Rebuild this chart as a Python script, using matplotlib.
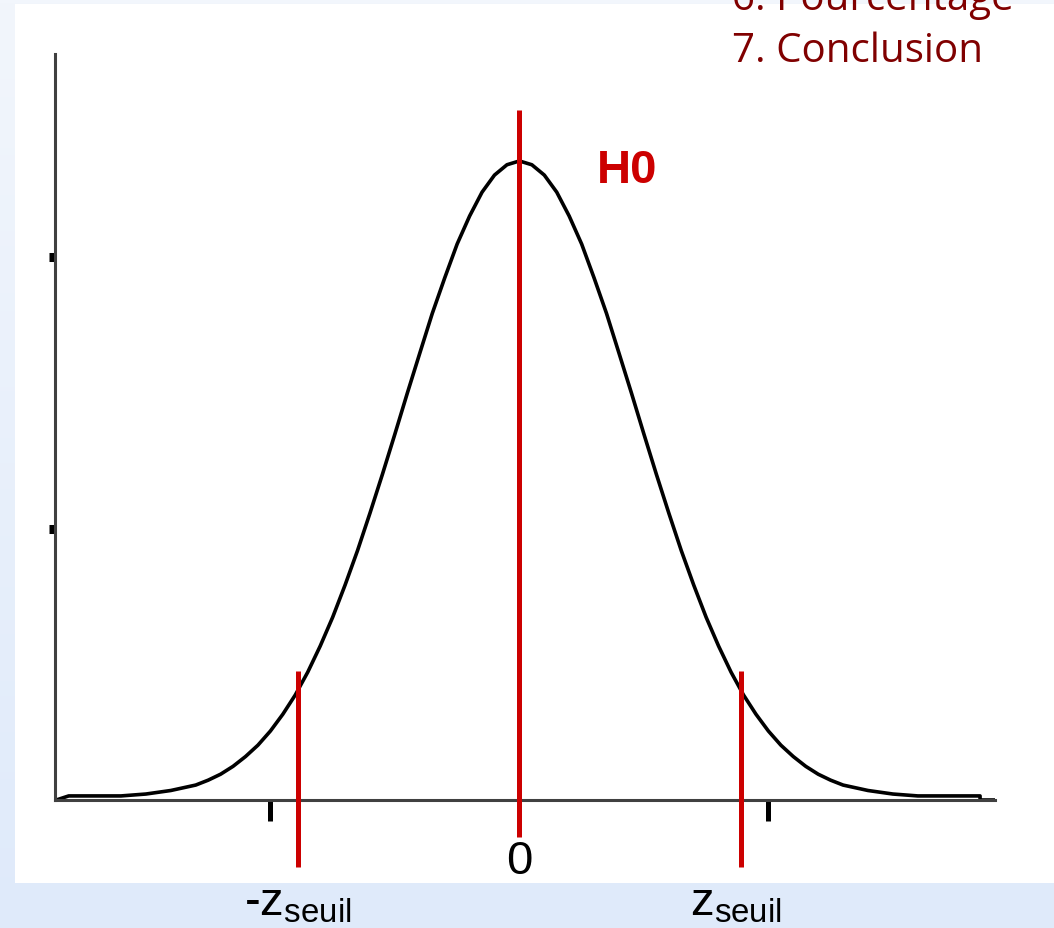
import matplotlib
matplotlib.use("Agg")
import matplotlib.pyplot as plt
import numpy as np
from matplotlib.colors import LinearSegmentedColormap
from matplotlib.patches import Rectangle

# ─── Data ────────────────────────────────────────────────────────────────────
# density curve under H0 (x in z units, y in density units)
curve_x = [-3.72, -3.62, -3.4, -3.2, -3.0, -2.8, -2.6, -2.5, -2.4, -2.3, -2.2, -2.1,
           -2.0, -1.9, -1.8, -1.7, -1.6, -1.5, -1.4, -1.3, -1.2, -1.1, -1.0, -0.9,
           -0.8, -0.7, -0.6, -0.5, -0.4, -0.3, -0.2, -0.1, 0.0,
           0.1, 0.2, 0.3, 0.4, 0.5, 0.6, 0.7, 0.8, 0.9, 1.0, 1.1, 1.2,
           1.3, 1.4, 1.5, 1.6, 1.7, 1.8, 1.9, 2.0, 2.1, 2.2, 2.3, 2.4,
           2.5, 2.6, 2.8, 3.0, 3.2, 3.4, 3.6, 3.7, 3.7, 3.82]
curve_y = [0.0, 0.0015, 0.0015, 0.0015, 0.0022, 0.0035, 0.0055, 0.0073, 0.0095, 0.0124, 0.016, 0.0202,
           0.0254, 0.0316, 0.0387, 0.0471, 0.0567, 0.0673, 0.0792, 0.0919, 0.1057, 0.12, 0.1348, 0.1499,
           0.1646, 0.1792, 0.1923, 0.2048, 0.2151, 0.2239, 0.2302, 0.234, 0.2354,
           0.234, 0.2302, 0.2239, 0.2151, 0.2048, 0.1923, 0.1792, 0.1646, 0.1499, 0.1348, 0.12, 0.1057,
           0.0919, 0.0792, 0.0673, 0.0567, 0.0471, 0.0387, 0.0316, 0.0254, 0.0202, 0.016, 0.0124, 0.0095,
           0.0073, 0.0055, 0.0035, 0.0022, 0.0015, 0.0015, 0.0015, 0.0015, 0.0, 0.0]

z_seuil = 1.78
x_ticks = [-2, 0, 2]
y_ticks = [0.1, 0.2]
menu_items = ["6. Pourcentage", "7. Conclusion"]

RED = "#cc0000"
MENU_RED = "#800000"

fig = plt.figure(figsize=(10.54, 9.29), dpi=100)

# slide background: soft blue gradient with a white content panel
bg = fig.add_axes([0, 0, 1, 1], zorder=-10)
grad = np.linspace(0, 1, 256).reshape(-1, 1)
cmap = LinearSegmentedColormap.from_list("slide", ["#f2f6fc", "#dfeafa"])
bg.imshow(grad, aspect="auto", cmap=cmap, extent=[0, 1, 0, 1])
bg.add_patch(Rectangle((15 / 1054, 1 - 884 / 929), 1, (884 - 5) / 929,
                       facecolor="white", edgecolor="none"))
bg.set_xlim(0, 1)
bg.set_ylim(0, 1)
bg.axis("off")

ax = fig.add_axes([55 / 1054, 1 - 801 / 929, 940 / 1054, 746 / 929])
ax.set_facecolor("none")
ax.set_xlim(-3.73, 3.82)
ax.set_ylim(0, 0.2748)

ax.plot(curve_x, curve_y, color="black", lw=2.6, zorder=2)

# critical values and the H0 centre
ax.plot([-z_seuil, -z_seuil], [-0.0247, 0.0475], color=RED, lw=3.6,
        clip_on=False, solid_capstyle="butt", zorder=3)
ax.plot([z_seuil, z_seuil], [-0.0247, 0.0475], color=RED, lw=3.6,
        clip_on=False, solid_capstyle="butt", zorder=3)
ax.plot([0, 0], [-0.0136, 0.254], color=RED, lw=3.6,
        clip_on=False, solid_capstyle="butt", zorder=3)

for side in ["top", "right"]:
    ax.spines[side].set_visible(False)
for side in ["left", "bottom"]:
    ax.spines[side].set_color("#404040")
    ax.spines[side].set_linewidth(2.2)

ax.set_xticks(x_ticks)
ax.set_yticks(y_ticks)
ax.tick_params(axis="x", direction="out", length=15, width=3.6, color="black",
               labelbottom=False)
ax.tick_params(axis="y", direction="out", length=4, width=6.5, color="black",
               labelleft=False)

label_font = dict(family="Liberation Sans", fontsize=34, color="black")
ax.text(0.0, -0.0225, "0", ha="center", va="center", clip_on=False, **label_font)
ax.text(-z_seuil, -0.042, r"-z$\mathregular{_{seuil}}$", ha="center",
        va="baseline", clip_on=False, **label_font)
ax.text(z_seuil - 0.04, -0.042, r"z$\mathregular{_{seuil}}$", ha="center",
        va="baseline", clip_on=False, **label_font)

ax.text(0.62, 0.2276, "H0", ha="left", va="baseline", color=RED,
        fontsize=34, fontweight="bold", family="Liberation Sans")

# navigation list in the slide corner
for i, item in enumerate(menu_items):
    fig.text(732 / 1054, 1 - (10 + 52 * i) / 929, item, ha="left",
             va="baseline", color=MENU_RED, fontsize=29, family="Open Sans")

fig.savefig("out.png", dpi=100)
